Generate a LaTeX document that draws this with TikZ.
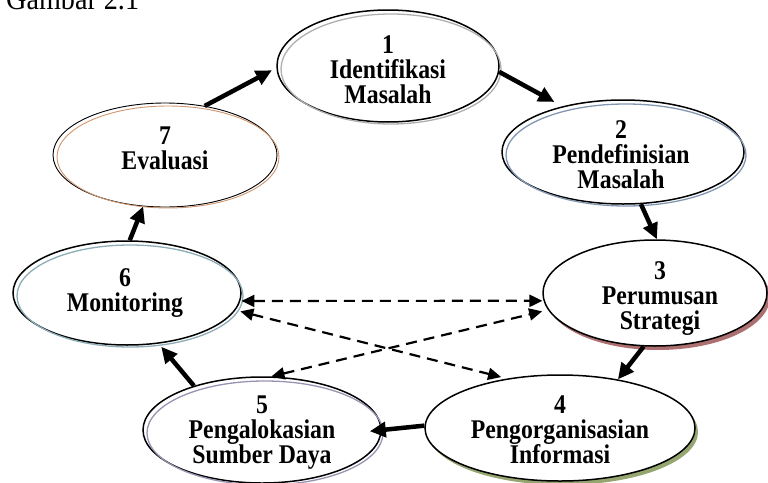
\documentclass[tikz,border=0pt]{standalone}
\usepackage{fontspec}
\newfontfamily\lbl{Liberation Serif}[FakeStretch=0.88]
\usetikzlibrary{shapes.geometric,arrows.meta}
\definecolor{sh1}{RGB}{175,175,175}
\definecolor{sh2}{RGB}{130,150,178}
\definecolor{sh3}{RGB}{172,112,112}
\definecolor{sh4}{RGB}{150,166,112}
\definecolor{sh5}{RGB}{155,145,178}
\definecolor{sh6}{RGB}{140,172,182}
\definecolor{sh7}{RGB}{208,150,110}
\begin{document}
\begin{tikzpicture}[x=1pt,y=-1pt,
  stage/.style={ellipse, draw=black, line width=1.5pt, inner sep=0pt},
  txt/.style={align=center, inner sep=0pt, font=\lbl\bfseries\fontsize{27}{25}\selectfont},
  ring/.style={line width=1.3pt},
  flow/.style={line width=4.5pt, -{Triangle[length=16pt,width=15pt]}},
  link/.style={line width=2.2pt, dash pattern=on 11pt off 7pt,
    {Triangle[length=13pt,width=12pt]}-{Triangle[length=13pt,width=12pt]}}]
\useasboundingbox (0,0) rectangle (768,482);
\clip (0,0) rectangle (768,482);
% title
\node[anchor=base west, inner sep=0pt, font=\lbl\fontsize{32}{32}\selectfont] (title) at (6,9) {Gambar 2.1};
% centres
\coordinate (c1) at (388,66);
\coordinate (c2) at (623,152);
\coordinate (c3) at (655,293);
\coordinate (c4) at (560,428);
\coordinate (c5) at (262,430);
\coordinate (c6) at (127,293);
\coordinate (c7) at (165,155);
% shadows
\fill[sh3] ([shift={(3,4)}]c3) ellipse [x radius=112pt, y radius=53pt];
\fill[sh4] ([shift={(3,4)}]c4) ellipse [x radius=135pt, y radius=53pt];
% ellipses
\node[stage, minimum width=222pt, minimum height=112pt] (n1) at (c1) {};
\node[stage, minimum width=242pt, minimum height=104pt] (n2) at (c2) {};
\node[stage, fill=white, minimum width=224pt, minimum height=106pt] (n3) at (c3) {};
\node[stage, fill=white, minimum width=270pt, minimum height=106pt] (n4) at (c4) {};
\node[stage, minimum width=238pt, minimum height=106pt] (n5) at (c5) {};
\node[stage, minimum width=228pt, minimum height=104pt] (n6) at (c6) {};
\node[stage, line width=0.9pt, minimum width=224pt, minimum height=104pt] (n7) at (c7) {};
\draw[ring, sh1] ([shift={(3,3)}]c1) ellipse [x radius=110pt, y radius=55pt];
\draw[ring, sh2] ([shift={(3,3)}]c2) ellipse [x radius=120pt, y radius=51pt];
\draw[ring, sh5] ([shift={(3,3)}]c5) ellipse [x radius=118pt, y radius=52pt];
\draw[ring, sh6] ([shift={(3,3)}]c6) ellipse [x radius=113pt, y radius=51pt];
\draw[line width=0.9pt, sh7] ([shift={(3,2)}]c7) ellipse [x radius=111pt, y radius=51pt];
% labels
\node[txt] (t1) at (388,70) {1\\Identifikasi\\Masalah};
\node[txt] (t2) at (621,155) {2\\Pendefinisian\\Masalah};
\node[txt] (t3) at (660,299) {3\\Perumusan\\Strategi};
\node[txt] (t4) at (560,430) {4\\Pengorganisasian\\Informasi};
\node[txt] (t5) at (262,433) {5\\Pengalokasian\\Sumber Daya};
\node[txt] (t6) at (125,293) {6\\Monitoring};
\node[txt] (t7) at (165,148) {7\\Evaluasi};
% main cycle
\draw[flow, shorten >=5pt] (n7.51) -- (n1.181);
\draw[flow, shorten >=9pt] (n1.-3) -- (n2.143);
\draw[flow] (n2.-71) -- (n3.88);
\draw[flow] (n3.-102) -- (n4.40);
\draw[flow, shorten >=-12pt] (n4.179) -- (n5.0);
\draw[flow, shorten >=4pt] (n5.147) -- (n6.-58);
\draw[flow] (n6.87) -- (n7.-113);
% dashed links
\draw[link, shorten <=1pt, shorten >=1pt] (n6.-4) -- (n3.184);
\draw[link, shorten <=5pt, shorten >=6pt] (n6.-9) -- (n4.137);
\draw[link, shorten >=6pt] (n5.80) -- (n3.189);
\end{tikzpicture}
\end{document}
